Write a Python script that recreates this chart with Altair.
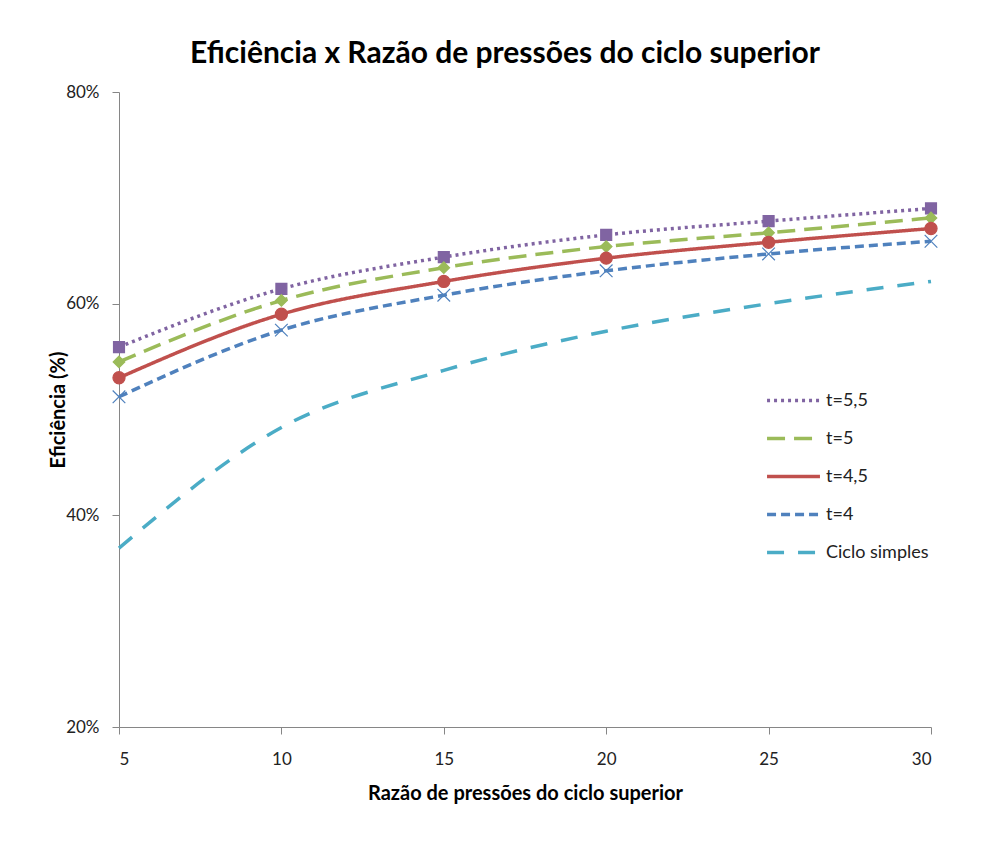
import altair as alt
import pandas as pd

x_vals = [5, 10, 15, 20, 25, 30]
series_names = ["t=5,5", "t=5", "t=4,5", "t=4", "Ciclo simples"]
t55 = [0.559, 0.614, 0.644, 0.665, 0.678, 0.690]
t5 = [0.545, 0.603, 0.634, 0.654, 0.667, 0.681]
t45 = [0.530, 0.590, 0.621, 0.643, 0.658, 0.671]
t4 = [0.512, 0.575, 0.608, 0.631, 0.647, 0.659]
ciclo = [0.369, 0.483, 0.537, 0.574, 0.600, 0.621]

colors = ["#8064A2", "#9BBB59", "#C0504D", "#4F81BD", "#4BACC6"]
dashes = [[3, 4], [18, 9], [1, 0], [9, 5], [17, 14]]

rows = []
for name, vals in zip(series_names, [t55, t5, t45, t4, ciclo]):
    for x, v in zip(x_vals, vals):
        rows.append({"x": x, "y": v, "serie": name})
df = pd.DataFrame(rows)

FONT = "Lato"

x_enc = alt.X("x:Q", scale=alt.Scale(domain=[5, 30], nice=False, zero=False),
              axis=alt.Axis(values=[5, 10, 15, 20, 25, 30], title="Razão de pressões do ciclo superior",
                            grid=False, tickSize=7, labelPadding=17, titlePadding=16))
y_enc = alt.Y("y:Q", scale=alt.Scale(domain=[0.2, 0.8], nice=False, zero=False),
              axis=alt.Axis(values=[0.2, 0.4, 0.6, 0.8], format=".0%", title="Eficiência (%)",
                            grid=False, tickSize=7, labelPadding=13, titlePadding=-3))

legend = alt.Legend(title=None, orient="none", legendX=646, legendY=280, symbolType="stroke",
                    symbolSize=2800, symbolStrokeWidth=3.5, labelFontSize=18, labelFont=FONT,
                    labelColor="#222222", rowPadding=-17, labelOffset=4, padding=0)

color_scale = alt.Scale(domain=series_names, range=colors)

lines = alt.Chart(df).mark_line(strokeWidth=3.5, interpolate="monotone").encode(
    x=x_enc, y=y_enc,
    color=alt.Color("serie:N", scale=color_scale, legend=legend),
    strokeDash=alt.StrokeDash("serie:N", scale=alt.Scale(domain=series_names, range=dashes), legend=legend),
)

marker_names = series_names[:4]
shapes = ["square", "diamond", "circle", "M-1,-1L1,1M-1,1L1,-1"]
points = alt.Chart(df).transform_filter(
    alt.FieldOneOfPredicate(field="serie", oneOf=marker_names)
).mark_point(filled=True, opacity=1, strokeWidth=1.2).encode(
    x=x_enc, y=y_enc,
    color=alt.Color("serie:N", scale=color_scale, legend=legend),
    stroke=alt.Stroke("serie:N", scale=alt.Scale(domain=marker_names, range=colors[:4]), legend=None),
    shape=alt.Shape("serie:N", scale=alt.Scale(domain=marker_names, range=shapes), legend=None),
    size=alt.Size("serie:N", scale=alt.Scale(domain=marker_names, range=[120, 160, 160, 70]), legend=None),
)

chart = alt.layer(lines, points).properties(
    width=812, height=635,
    title=alt.TitleParams("Eficiência x Razão de pressões do ciclo superior", fontSize=30,
                          font=FONT, fontWeight="bold", color="#000000", offset=14, dx=-20,
                          anchor="middle"),
    autosize=alt.AutoSizeParams(type="none"),
    padding={"left": 119, "top": 92, "right": 65, "bottom": 116},
).configure_view(stroke=None).configure_axis(
    domainColor="#868686", tickColor="#868686", labelFont=FONT, labelFontSize=17,
    labelColor="#222222", titleFont=FONT, titleFontSize=20, titleFontWeight="bold",
    titleColor="#000000", domainWidth=1, tickWidth=1
)

chart.save("out.html", embed_options={"renderer": "svg", "actions": False})
